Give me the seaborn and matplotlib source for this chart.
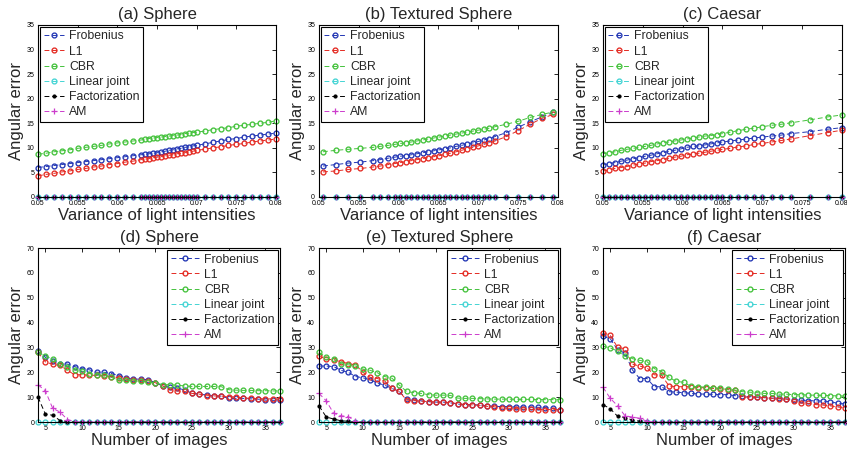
import numpy as np
import matplotlib
matplotlib.use("Agg")
import matplotlib.pyplot as plt
import pandas as pd
import seaborn as sns

methods = ["Frobenius", "L1", "CBR", "Linear joint", "Factorization", "AM"]
colors = ["#2236b4", "#e42a22", "#44c23c", "#44d4d4", "#000000", "#cc3ccc"]
markers = ["o", "o", "o", "o", ".", "+"]

var_ticks = [0.05, 0.055, 0.06, 0.065, 0.07, 0.075, 0.08]
var_tick_labels = ["0.05", "0.055", "0.06", "0.065", "0.07", "0.075", "0.08"]
img_ticks = [5, 10, 15, 20, 25, 30, 35]

# (a) Sphere, error vs variance of light intensities
a_x = [0.050, 0.051, 0.052, 0.053, 0.054, 0.055, 0.056, 0.057, 0.058, 0.059,
       0.060, 0.061, 0.062, 0.063, 0.0635, 0.064, 0.0645, 0.065, 0.0655, 0.066,
       0.0665, 0.067, 0.0675, 0.068, 0.0685, 0.069, 0.0695, 0.070, 0.071, 0.072,
       0.073, 0.074, 0.075, 0.076, 0.077, 0.078, 0.079, 0.080]
a_frob = [6.0, 6.2, 6.4, 6.6, 6.8, 7.0, 7.2, 7.4, 7.6, 7.8,
          8.0, 8.2, 8.4, 8.6, 8.7, 8.8, 8.9, 9.0, 9.2, 9.3,
          9.5, 9.6, 9.8, 9.9, 10.1, 10.2, 10.4, 10.5, 10.8, 11.1,
          11.4, 11.7, 11.9, 12.2, 12.4, 12.6, 12.8, 13.0]
a_l1 = [4.3, 4.6, 4.8, 5.1, 5.3, 5.6, 5.8, 6.1, 6.3, 6.6,
        6.8, 7.1, 7.3, 7.6, 7.7, 7.8, 8.0, 8.1, 8.2, 8.4,
        8.5, 8.6, 8.8, 8.9, 9.0, 9.2, 9.3, 9.5, 9.7, 10.0,
        10.2, 10.5, 10.7, 10.9, 11.2, 11.4, 11.6, 11.8]
a_cbr = [8.7, 8.9, 9.2, 9.4, 9.6, 9.9, 10.1, 10.3, 10.5, 10.8,
         11.0, 11.2, 11.4, 11.6, 11.8, 11.9, 12.0, 12.1, 12.2, 12.3,
         12.4, 12.5, 12.6, 12.7, 12.9, 13.0, 13.1, 13.2, 13.4, 13.7,
         13.9, 14.1, 14.4, 14.6, 14.8, 15.0, 15.2, 15.5]

# (b) Textured Sphere
b_x = [0.0505, 0.0521, 0.0537, 0.0552, 0.0568, 0.0577, 0.0587, 0.0595, 0.0602, 0.0609,
       0.0616, 0.0623, 0.0630, 0.0637, 0.0644, 0.0651, 0.0658, 0.0665, 0.0672, 0.0679,
       0.0686, 0.0693, 0.0700, 0.0707, 0.0714, 0.0721, 0.0735, 0.0750, 0.0765, 0.0780,
       0.0794]
b_frob = [6.3, 6.6, 6.9, 7.1, 7.4, 7.6, 7.9, 8.1, 8.3, 8.4,
          8.6, 8.8, 9.0, 9.2, 9.4, 9.6, 9.8, 10.0, 10.3, 10.5,
          10.8, 11.0, 11.3, 11.6, 11.9, 12.3, 13.1, 14.2, 15.3, 16.3,
          17.2]
b_l1 = [5.1, 5.3, 5.6, 5.8, 6.1, 6.3, 6.6, 6.8, 7.0, 7.2,
        7.4, 7.6, 7.8, 8.0, 8.2, 8.4, 8.7, 8.9, 9.2, 9.5,
        9.8, 10.1, 10.4, 10.7, 11.0, 11.4, 12.3, 13.5, 14.8, 16.0,
        16.8]
b_cbr = [9.2, 9.5, 9.7, 9.9, 10.1, 10.3, 10.5, 10.7, 10.9, 11.0,
         11.2, 11.4, 11.6, 11.8, 12.0, 12.2, 12.4, 12.6, 12.8, 13.0,
         13.2, 13.4, 13.6, 13.8, 14.0, 14.3, 14.8, 15.4, 16.2, 16.8,
         17.3]

# (c) Caesar
c_x = [0.0500, 0.0508, 0.0515, 0.0523, 0.0530, 0.0538, 0.0545, 0.0553, 0.0560, 0.0568,
       0.0575, 0.0583, 0.0590, 0.0598, 0.0605, 0.0613, 0.0620, 0.0628, 0.0635, 0.0643,
       0.0650, 0.0660, 0.0670, 0.0680, 0.0690, 0.0700, 0.0712, 0.0724, 0.0736, 0.0760,
       0.0782, 0.0800]
c_frob = [6.5, 6.8, 7.0, 7.3, 7.5, 7.8, 8.0, 8.3, 8.5, 8.8,
          9.0, 9.3, 9.5, 9.8, 10.1, 10.3, 10.4, 10.6, 10.8, 11.0,
          11.2, 11.4, 11.6, 11.8, 12.0, 12.2, 12.4, 12.6, 12.9, 13.3,
          13.8, 14.1]
c_l1 = [5.3, 5.5, 5.8, 6.0, 6.2, 6.5, 6.7, 6.9, 7.2, 7.4,
        7.6, 7.9, 8.1, 8.3, 8.6, 8.7, 8.9, 9.1, 9.3, 9.5,
        9.7, 9.9, 10.2, 10.4, 10.7, 10.9, 11.2, 11.5, 11.8, 12.5,
        13.1, 13.6]
c_cbr = [8.8, 9.0, 9.2, 9.5, 9.7, 9.9, 10.1, 10.3, 10.5, 10.8,
         11.0, 11.2, 11.4, 11.6, 11.8, 12.0, 12.2, 12.4, 12.5, 12.7,
         12.9, 13.2, 13.5, 13.8, 14.0, 14.3, 14.6, 14.8, 15.1, 15.7,
         16.3, 16.7]

# bottom row, error vs number of images (4..37)
n_images = [4, 5, 6, 7, 8, 9, 10, 11, 12, 13, 14, 15, 16, 17, 18, 19, 20,
            21, 22, 23, 24, 25, 26, 27, 28, 29, 30, 31, 32, 33, 34, 35, 36, 37]

d_frob = [28.5, 26.0, 24.5, 23.5, 23.3, 22.3, 21.5, 21.0, 20.0, 20.0, 19.5, 18.7, 17.8, 17.3, 17.2, 17.0, 15.8,
          14.5, 14.0, 13.5, 13.0, 11.5, 11.3, 10.8, 10.5, 10.4, 9.5, 9.5, 9.5, 9.3, 9.2, 8.8, 8.7, 8.7]
d_l1 = [28.0, 24.2, 23.2, 22.8, 20.8, 19.0, 19.0, 18.8, 18.8, 18.5, 18.3, 17.8, 17.2, 16.8, 16.7, 16.6, 15.8,
        14.5, 13.0, 12.5, 12.3, 11.5, 11.2, 10.6, 10.5, 10.4, 10.2, 10.0, 9.7, 9.5, 9.3, 9.3, 9.3, 9.3]
d_cbr = [28.0, 26.6, 25.3, 23.3, 22.3, 21.0, 20.5, 19.5, 19.0, 18.8, 18.0, 16.8, 16.8, 16.5, 16.5, 16.0, 15.8,
         15.0, 15.0, 14.8, 14.5, 14.3, 14.3, 14.3, 14.3, 14.2, 13.0, 12.8, 12.7, 12.7, 12.6, 12.6, 12.5, 12.5]
d_fact = [10.0, 3.2, 2.7, 0.6, 0.2, 0, 0, 0, 0, 0, 0, 0, 0, 0, 0, 0, 0,
          0, 0, 0, 0, 0, 0, 0, 0, 0, 0, 0, 0, 0, 0, 0, 0, 0]
d_am = [15.0, 12.5, 5.5, 4.0, 1.0, 0.2, 0, 0, 0, 0, 0, 0, 0, 0, 0, 0, 0,
        0, 0, 0, 0, 0, 0, 0, 0, 0, 0, 0, 0, 0, 0, 0, 0, 0]

e_frob = [22.5, 22.5, 22.3, 20.8, 20.0, 18.3, 17.8, 17.0, 15.7, 14.8, 13.5, 12.3, 9.2, 8.8, 8.5, 8.2, 8.0,
          8.0, 7.7, 7.2, 7.0, 7.0, 6.8, 6.5, 6.3, 6.2, 6.2, 6.0, 6.0, 6.0, 5.9, 5.8, 5.5, 5.0]
e_l1 = [26.5, 25.3, 25.0, 24.3, 23.5, 23.0, 20.0, 18.0, 17.5, 16.5, 13.5, 12.3, 8.8, 8.6, 8.4, 8.2, 8.0,
        8.0, 7.8, 7.4, 7.0, 6.9, 6.7, 6.3, 6.1, 5.6, 5.5, 5.4, 5.2, 5.1, 5.0, 5.0, 5.0, 4.9]
e_cbr = [28.0, 26.0, 25.5, 23.5, 23.0, 22.5, 21.3, 20.8, 19.8, 18.3, 17.6, 14.8, 12.3, 11.8, 11.5, 11.0, 10.8,
         10.8, 10.7, 9.6, 9.5, 9.5, 9.4, 9.3, 9.2, 9.2, 9.2, 9.1, 9.1, 9.1, 9.0, 9.0, 9.0, 9.0]
e_fact = [6.5, 2.0, 1.2, 0.5, 0.3, 0, 0, 0, 0, 0, 0, 0, 0, 0, 0, 0, 0,
          0, 0, 0, 0, 0, 0, 0, 0, 0, 0, 0, 0, 0, 0, 0, 0, 0]
e_am = [11.5, 8.5, 3.5, 2.5, 2.2, 0.3, 0, 0, 0, 0, 0, 0, 0, 0, 0, 0, 0,
        0, 0, 0, 0, 0, 0, 0, 0, 0, 0, 0, 0, 0, 0, 0, 0, 0]

f_frob = [34.5, 33.5, 29.0, 27.8, 21.0, 17.5, 17.5, 14.2, 14.2, 12.2, 12.0, 11.8, 11.5, 11.3, 11.2, 11.1, 11.0,
          11.0, 10.6, 10.3, 10.2, 10.0, 9.8, 9.6, 9.5, 9.3, 9.0, 8.8, 8.6, 8.5, 8.4, 8.2, 7.5, 7.3]
f_l1 = [36.0, 34.8, 30.0, 29.5, 23.3, 22.5, 21.8, 19.0, 18.8, 14.5, 14.2, 14.2, 14.2, 13.8, 13.8, 13.5, 13.3,
        13.0, 12.8, 10.0, 10.0, 10.0, 9.8, 9.5, 9.3, 9.2, 8.3, 7.6, 7.5, 7.0, 6.8, 6.5, 6.0, 5.8]
f_cbr = [30.5, 29.8, 28.5, 26.5, 25.5, 24.8, 24.3, 21.5, 20.3, 18.0, 16.3, 16.0, 14.3, 14.2, 14.0, 13.8, 13.5,
         13.2, 12.8, 12.2, 12.0, 11.8, 11.5, 11.5, 11.2, 11.2, 11.0, 11.0, 10.8, 10.8, 10.7, 10.6, 10.5, 10.4]
f_fact = [7.0, 5.3, 2.3, 1.8, 0.8, 0.3, 0, 0, 0, 0, 0, 0, 0, 0, 0, 0, 0,
          0, 0, 0, 0, 0, 0, 0, 0, 0, 0, 0, 0, 0, 0, 0, 0, 0]
f_am = [14.0, 9.5, 6.5, 2.5, 2.0, 1.5, 0.3, 0, 0, 0, 0, 0, 0, 0, 0, 0, 0,
        0, 0, 0, 0, 0, 0, 0, 0, 0, 0, 0, 0, 0, 0, 0, 0, 0]

sns.set_theme(style="white")
plt.rcParams["font.family"] = ["Liberation Sans", "DejaVu Sans"]
plt.rcParams["axes.linewidth"] = 0.8
plt.rcParams["axes.edgecolor"] = "black"

fig = plt.figure(figsize=(8.47, 4.51), dpi=100)

panels = [
    ("(a) Sphere", [0.0449, 0.5632, 0.281, 0.3814], a_x,
     [a_frob, a_l1, a_cbr, [0.0] * len(a_x), [0.0] * len(a_x), [0.0] * len(a_x)], "top"),
    ("(b) Textured Sphere", [0.3766, 0.5632, 0.2822, 0.3814], b_x,
     [b_frob, b_l1, b_cbr, [0.0] * len(b_x), [0.0] * len(b_x), [0.0] * len(b_x)], "top"),
    ("(c) Caesar", [0.7119, 0.5632, 0.2822, 0.3814], c_x,
     [c_frob, c_l1, c_cbr, [0.0] * len(c_x), [0.0] * len(c_x), [0.0] * len(c_x)], "top"),
    ("(d) Sphere", [0.0449, 0.0643, 0.2857, 0.3858], n_images,
     [d_frob, d_l1, d_cbr, [0.0] * len(n_images), d_fact, d_am], "bottom"),
    ("(e) Textured Sphere", [0.3766, 0.0643, 0.2845, 0.3858], n_images,
     [e_frob, e_l1, e_cbr, [0.0] * len(n_images), e_fact, e_am], "bottom"),
    ("(f) Caesar", [0.7119, 0.0643, 0.2857, 0.3858], n_images,
     [f_frob, f_l1, f_cbr, [0.0] * len(n_images), f_fact, f_am], "bottom"),
]

for title, rect, xs, series, row in panels:
    ax = fig.add_axes(rect)
    for name, ys, col, mk in zip(methods, series, colors, markers):
        df = pd.DataFrame({"x": xs, "y": ys})
        if mk == "o":
            extra = dict(markersize=3.5, markerfacecolor="none", markeredgecolor=col, markeredgewidth=0.95)
        elif mk == ".":
            extra = dict(markersize=4.5, markerfacecolor=col, markeredgecolor=col)
        else:
            extra = dict(markersize=4.5, markeredgecolor=col, markeredgewidth=0.9)
        sns.lineplot(data=df, x="x", y="y", ax=ax, color=col, label=name, marker=mk,
                     linestyle=(0, (5, 3)), linewidth=0.7, clip_on=False, **extra)

    leg_kw = dict(fontsize=8.8, handletextpad=0.4, borderpad=0.3, frameon=True,
                  fancybox=False, edgecolor="black", framealpha=1)
    if row == "top":
        ax.set_xlim(0.05, 0.08)
        ax.set_ylim(0, 35)
        ax.set_xticks(var_ticks)
        ax.set_xticklabels(var_tick_labels)
        ax.set_yticks([0, 5, 10, 15, 20, 25, 30, 35])
        ax.set_xlabel("Variance of light intensities", fontsize=12, labelpad=1)
        leg = ax.legend(loc="upper left", borderaxespad=0.15, labelspacing=0.26,
                        handlelength=1.7, **leg_kw)
    else:
        ax.set_xlim(4, 37)
        ax.set_ylim(0, 70)
        ax.set_xticks(img_ticks)
        ax.set_yticks([0, 10, 20, 30, 40, 50, 60, 70])
        ax.set_xlabel("Number of images", fontsize=12, labelpad=1)
        leg = ax.legend(loc="upper right", borderaxespad=0.15, labelspacing=0.26,
                        handlelength=2.3, **leg_kw)

    ax.set_ylabel("Angular error", fontsize=12, labelpad=1.5)
    ax.set_title(title, fontsize=12, pad=4)
    ax.tick_params(direction="in", top=True, right=True, length=3, width=0.6,
                   labelsize=5, colors="black")
    ax.tick_params(axis="x", pad=2.2)
    ax.tick_params(axis="y", pad=2.8)
    leg.get_frame().set_linewidth(0.8)
    for spine in ax.spines.values():
        spine.set_visible(True)
        spine.set_color("black")

fig.savefig("out.png", dpi=100)
